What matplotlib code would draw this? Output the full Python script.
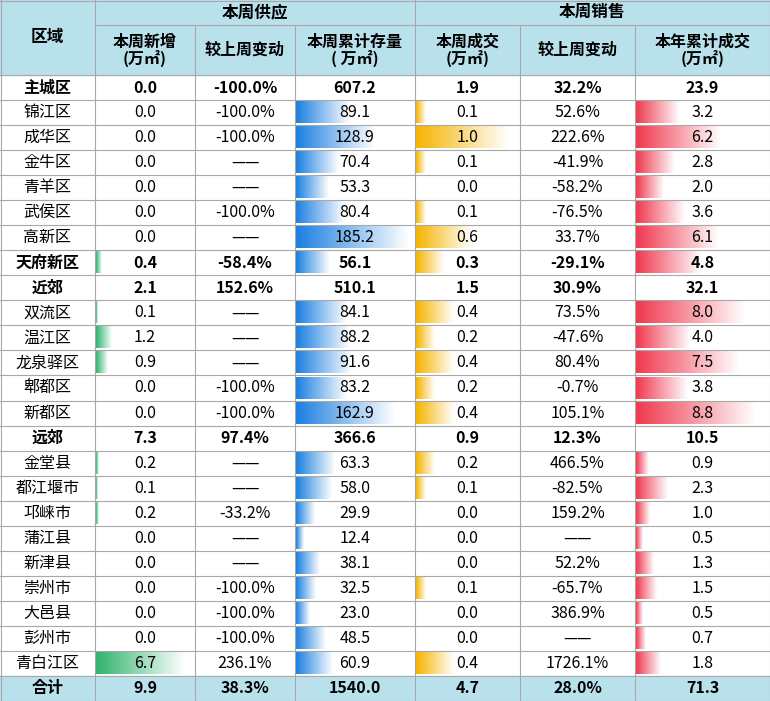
import matplotlib
matplotlib.use("Agg")
import matplotlib.pyplot as plt
from matplotlib import font_manager
import numpy as np
from matplotlib.colors import LinearSegmentedColormap

cjk = [f.name for f in font_manager.fontManager.ttflist if "CJK" in f.name]
pref = [n for n in ["Noto Sans CJK SC", "Noto Sans CJK JP", "Noto Sans CJK TC", "Noto Sans CJK KR"] if n in cjk]
plt.rcParams["font.family"] = (pref or cjk or ["DejaVu Sans"])[:1] + ["DejaVu Sans"]

regions = ["主城区","锦江区","成华区","金牛区","青羊区","武侯区","高新区","天府新区",
           "近郊","双流区","温江区","龙泉驿区","郫都区","新都区",
           "远郊","金堂县","都江堰市","邛崃市","蒲江县","新津县","崇州市","大邑县","彭州市","青白江区","合计"]
new_supply = [0.0,0.0,0.0,0.0,0.0,0.0,0.0,0.4,2.1,0.1,1.2,0.9,0.0,0.0,7.3,0.2,0.1,0.2,0.0,0.0,0.0,0.0,0.0,6.7,9.9]
supply_chg = ["-100.0%","-100.0%","-100.0%","——","——","-100.0%","——","-58.4%","152.6%","——","——","——","-100.0%","-100.0%",
              "97.4%","——","——","-33.2%","——","——","-100.0%","-100.0%","-100.0%","236.1%","38.3%"]
stock = [607.2,89.1,128.9,70.4,53.3,80.4,185.2,56.1,510.1,84.1,88.2,91.6,83.2,162.9,366.6,63.3,58.0,29.9,12.4,38.1,32.5,23.0,48.5,60.9,1540.0]
deals = [1.9,0.1,1.0,0.1,0.0,0.1,0.6,0.3,1.5,0.4,0.2,0.4,0.2,0.4,0.9,0.2,0.1,0.0,0.0,0.0,0.1,0.0,0.0,0.4,4.7]
deals_chg = ["32.2%","52.6%","222.6%","-41.9%","-58.2%","-76.5%","33.7%","-29.1%","30.9%","73.5%","-47.6%","80.4%","-0.7%","105.1%",
             "12.3%","466.5%","-82.5%","159.2%","——","52.2%","-65.7%","386.9%","——","1726.1%","28.0%"]
ytd = [23.9,3.2,6.2,2.8,2.0,3.6,6.1,4.8,32.1,8.0,4.0,7.5,3.8,8.8,10.5,0.9,2.3,1.0,0.5,1.3,1.5,0.5,0.7,1.8,71.3]
bold_rows = ["主城区","天府新区","近郊","远郊","合计"]
no_bar_rows = ["主城区","近郊","远郊","合计"]

W, H = 770, 701
fig = plt.figure(figsize=(W/100, H/100), dpi=100)
ax = fig.add_axes([0, 0, 1, 1])
ax.set_xlim(0, W); ax.set_ylim(H, 0); ax.axis("off")

cols = [0, 95, 195, 295, 415, 520, 635, 770]
hdr_bg = "#b9e1ec"
top = 75
rh = (H - top) / len(regions)
grid = "#a8a8a8"

ax.add_patch(plt.Rectangle((0, 0), W, top, color=hdr_bg, zorder=0))
ax.add_patch(plt.Rectangle((0, top + rh*24), W, rh, color=hdr_bg, zorder=0))

fs = 11.5
ax.text(47, 37, "区域", ha="center", va="center", fontsize=12, fontweight="bold")
ax.text(255, 12, "本周供应", ha="center", va="center", fontsize=12, fontweight="bold")
ax.text(592, 12, "本周销售", ha="center", va="center", fontsize=12, fontweight="bold")
subs = ["本周新增\n(万㎡)", "较上周变动", "本周累计存量\n( 万㎡)", "本周成交\n(万㎡)", "较上周变动", "本年累计成交\n(万㎡)"]
for i, s in enumerate(subs):
    ax.text((cols[i+1]+cols[i+2])/2, 50, s, ha="center", va="center", fontsize=11.5,
            fontweight="bold", linespacing=1.0)

bar_specs = {1: (new_supply, "#2fb36d", 0.9), 3: (stock, "#1a7fe0", 0.95),
             4: (deals, "#f5b400", 0.9), 6: (ytd, "#f0384e", 0.9)}
cmaps = {k: LinearSegmentedColormap.from_list("g%d" % k, [v[1], "#ffffff"]) for k, v in bar_specs.items()}
grad = np.linspace(0, 1, 256).reshape(1, -1)

for r, name in enumerate(regions):
    y0 = top + r*rh
    yc = y0 + rh/2
    bold = name in bold_rows
    fw = "bold" if bold else "normal"
    if name not in no_bar_rows:
        for c, (vals, colr, frac) in bar_specs.items():
            sub = [v for n, v in zip(regions, vals) if n not in no_bar_rows]
            mx = max(sub)
            wdt = (cols[c+1]-cols[c]-2) * frac * vals[r] / mx
            if wdt > 0:
                wdt = max(wdt, 2)
                ax.imshow(grad, cmap=cmaps[c], aspect="auto", zorder=1,
                          extent=(cols[c]+1, cols[c]+1+wdt, y0+rh-2, y0+2))
    texts = [name, f"{new_supply[r]:.1f}", supply_chg[r], f"{stock[r]:.1f}",
             f"{deals[r]:.1f}", deals_chg[r], f"{ytd[r]:.1f}"]
    for c, t in enumerate(texts):
        ax.text((cols[c]+cols[c+1])/2, yc, t, ha="center", va="center",
                fontsize=fs, fontweight=fw, zorder=3)

for r in range(len(regions)+1):
    y = top + r*rh
    ax.plot([0, W], [y, y], color=grid, lw=0.8, zorder=4)
ax.plot([95, W], [25, 25], color=grid, lw=0.8, zorder=4)
ax.plot([0, W], [0.5, 0.5], color=grid, lw=0.8, zorder=4)
for i, x in enumerate(cols):
    x = min(max(x, 0.5), W-0.5)
    if i in (2, 3, 5, 6):
        ax.plot([x, x], [25, H], color=grid, lw=0.8, zorder=4)
    else:
        ax.plot([x, x], [0, H], color=grid, lw=0.8, zorder=4)

ax.set_xlim(0, W); ax.set_ylim(H, 0)
fig.savefig("out.png", dpi=100)
